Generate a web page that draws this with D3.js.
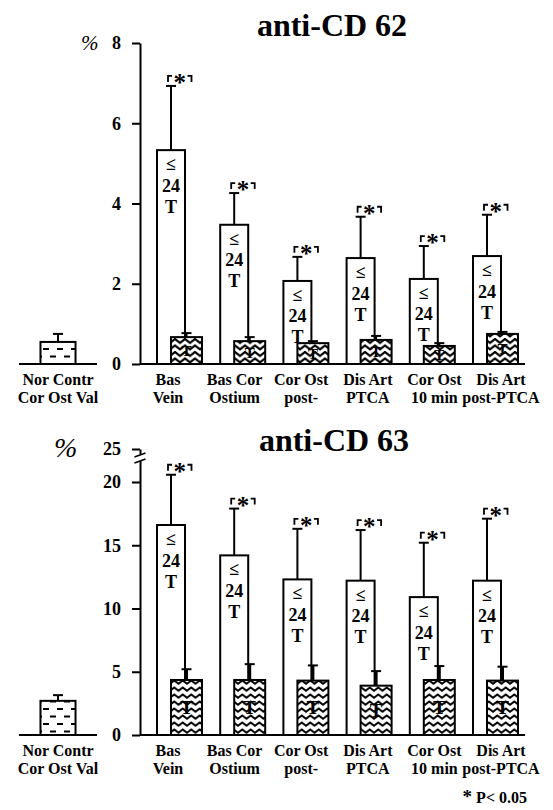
<!DOCTYPE html>
<html>
<head>
<meta charset="utf-8">
<script src="https://cdn.jsdelivr.net/npm/d3@7"></script>
<style>
  body { margin: 0; background: #fff; }
  svg { display: block; }
  text { font-family: "Liberation Serif", "Times New Roman", "DejaVu Serif", serif; font-weight: bold; fill: #000; }
</style>
</head>
<body>
<script>
// ---------- data ----------
const categories = ["Bas Vein", "Bas Cor Ostium", "Cor Ost post-", "Dis Art PTCA", "Cor Ost 10 min", "Dis Art post-PTCA"];
const labelLine1 = ["Bas", "Bas Cor", "Cor Ost", "Dis Art", "Cor Ost", "Dis Art"];
const labelLine2 = ["Vein", "Ostium", "post-", "PTCA", "10 min", "post-PTCA"];
const ctrlCategory = ["Nor Contr Cor Ost Val"];
const ctrlLine1 = ["Nor Contr"];
const ctrlLine2 = ["Cor Ost Val"];
const openText = ["≤", "24", "T"];
const hatchText = "T";

// anti-CD 62 (%)
const cd62Open = [5.33, 3.47, 2.07, 2.64, 2.12, 2.69];
const cd62OpenErr = [6.93, 4.26, 2.67, 3.67, 2.94, 3.72];
const cd62Hatch = [0.67, 0.57, 0.52, 0.60, 0.45, 0.75];
const cd62HatchErr = [0.77, 0.67, 0.57, 0.70, 0.52, 0.80];
const cd62Ctrl = [0.55];
const cd62CtrlErr = [0.75];
const cd62Ticks = [0, 2, 4, 6, 8];

// anti-CD 63 (%)
const cd63Open = [16.6, 14.2, 12.3, 12.2, 10.9, 12.2];
const cd63OpenErr = [21.1, 17.9, 16.3, 16.2, 15.2, 17.1];
const cd63Hatch = [4.35, 4.35, 4.3, 3.9, 4.35, 4.3];
const cd63HatchErr = [5.2, 5.6, 5.5, 5.05, 5.45, 5.4];
const cd63Ctrl = [2.7];
const cd63CtrlErr = [3.15];
const cd63Ticks = [0, 5, 10, 15, 20, 25];

// ---------- drawing ----------
const W = 553, H = 810;
const svg = d3.select("body").append("svg").attr("width", W).attr("height", H);
svg.append("rect").attr("width", W).attr("height", H).attr("fill", "#fff");

const defs = svg.append("defs");
// zigzag pattern (top chart, chevrons)
const pz1 = defs.append("pattern").attr("id", "zig1").attr("patternUnits", "userSpaceOnUse")
  .attr("width", 10).attr("height", 6.5);
pz1.append("rect").attr("width", 10).attr("height", 6.5).attr("fill", "#fff");
pz1.append("path").attr("d", "M-1,5.6 L5,1 L11,5.6").attr("fill", "none").attr("stroke", "#000").attr("stroke-width", 2.2);
// zigzag pattern (bottom chart, waves)
const pz2 = defs.append("pattern").attr("id", "zig2").attr("patternUnits", "userSpaceOnUse")
  .attr("width", 8.5).attr("height", 7);
pz2.append("rect").attr("width", 8.5).attr("height", 7).attr("fill", "#fff");
pz2.append("path").attr("d", "M-1,5.4 L4.25,1.4 L9.5,5.4").attr("fill", "none").attr("stroke", "#000").attr("stroke-width", 2);
// dash pattern (control)
const pd = defs.append("pattern").attr("id", "dash").attr("patternUnits", "userSpaceOnUse")
  .attr("width", 14).attr("height", 15).attr("patternTransform", "translate(40,0)");
pd.append("rect").attr("width", 14).attr("height", 15).attr("fill", "#fff");
pd.append("path").attr("d", "M3,4 H9 M10,11.5 H16 M-4,11.5 H2").attr("stroke", "#000").attr("stroke-width", 1.8);

const openW = 28, hatchOff = 14, hatchW = 31, capW = 10;
const labelSize = 16, lab1 = 21, lab2 = 39;

function panel(cfg) {
  const g = svg.append("g");
  const y = cfg.y;
  const x = d3.scalePoint().domain(categories).range([157, 473]);
  const xl = d3.scalePoint().domain(categories).range([168, 501]);
  const xc = d3.scaleBand().domain(ctrlCategory).range([19, 97]).padding(0.38);
  const y0 = y(0);

  // title
  g.append("text").attr("x", cfg.titleX).attr("y", cfg.titleY).attr("text-anchor", "middle")
    .style("font-size", "32px").text(cfg.title);
  // percent sign
  g.append("text").attr("x", cfg.pctX).attr("y", cfg.pctY)
    .style("font-size", cfg.pctSize + "px").style("font-weight", "normal").style("font-style", "italic").text("%");

  // axis
  const ax = g.append("g").attr("transform", "translate(140,0)")
    .call(d3.axisLeft(y).tickValues(cfg.ticks).tickSize(8).tickSizeOuter(0).tickPadding(11).tickFormat(d3.format("d")));
  ax.select(".domain").attr("stroke", "#000").attr("stroke-width", 2);
  ax.selectAll(".tick line").attr("stroke", "#000").attr("stroke-width", 2);
  ax.selectAll(".tick text").style("font-size", "18px").style("font-family", "Liberation Serif, serif")
    .style("font-weight", "bold").attr("fill", "#000");

  // axis break
  if (cfg.brk) {
    g.append("rect").attr("x", 134).attr("y", cfg.brk[0]).attr("width", 12).attr("height", cfg.brk[1] - cfg.brk[0]).attr("fill", "#fff");
    g.append("path").attr("d", `M134.5,${cfg.brk[0] + 3} L145.5,${cfg.brk[0] - 1} M134.5,${cfg.brk[1] + 2} L145.5,${cfg.brk[1] - 2}`)
      .attr("stroke", "#000").attr("stroke-width", 1.8);
  }

  // baselines
  g.append("line").attr("x1", 140).attr("x2", 525).attr("y1", y0).attr("y2", y0).attr("stroke", "#000").attr("stroke-width", 2);
  g.append("line").attr("x1", 19).attr("x2", 97).attr("y1", y0).attr("y2", y0).attr("stroke", "#000").attr("stroke-width", 2);

  // control bar
  xc.domain().forEach((c, i) => {
    const bx = xc(c), bw = xc.bandwidth(), cx = bx + bw / 2;
    g.append("line").attr("x1", cx).attr("x2", cx).attr("y1", y(cfg.ctrl[i])).attr("y2", y(cfg.ctrlErr[i])).attr("stroke", "#000").attr("stroke-width", 2);
    g.append("line").attr("x1", cx - capW / 2).attr("x2", cx + capW / 2).attr("y1", y(cfg.ctrlErr[i])).attr("y2", y(cfg.ctrlErr[i])).attr("stroke", "#000").attr("stroke-width", 2);
    g.append("rect").attr("x", bx).attr("y", y(cfg.ctrl[i])).attr("width", bw).attr("height", y0 - y(cfg.ctrl[i]))
      .attr("fill", "url(#dash)").attr("stroke", "#000").attr("stroke-width", 2);
    g.append("text").attr("x", cx).attr("y", y0 + lab1).attr("text-anchor", "middle").style("font-size", labelSize + "px").text(ctrlLine1[i]);
    g.append("text").attr("x", cx).attr("y", y0 + lab2).attr("text-anchor", "middle").style("font-size", labelSize + "px").text(ctrlLine2[i]);
  });

  categories.forEach((c, i) => {
    const lx = x(c);
    const wc = lx + openW / 2;
    const hx = lx + hatchOff, hc = hx + hatchW / 2;
    const top = y(cfg.open[i]);
    // open bar
    g.append("rect").attr("x", lx).attr("y", top).attr("width", openW).attr("height", y0 - top)
      .attr("fill", "#fff").attr("stroke", "#000").attr("stroke-width", 2);
    // open error bar
    const et = y(cfg.openErr[i]);
    g.append("line").attr("x1", wc).attr("x2", wc).attr("y1", top).attr("y2", et).attr("stroke", "#000").attr("stroke-width", 2);
    g.append("line").attr("x1", wc - capW / 2).attr("x2", wc + capW / 2).attr("y1", et).attr("y2", et).attr("stroke", "#000").attr("stroke-width", 2);
    // texts inside open bar
    const offs = [20, 41.5, 62.5];
    openText.forEach((t, k) => {
      g.append("text").attr("x", wc).attr("y", top + offs[k]).attr("text-anchor", "middle").style("font-size", "18px").text(t);
    });
    // significance marker
    const by = et - 10, x1 = wc - 3, x2 = hc + 5;
    g.append("path").attr("d", `M${x1},${by + 6} V${by} H${x1 + 4} M${x2 - 4},${by} H${x2} V${by + 6}`)
      .attr("fill", "none").attr("stroke", "#000").attr("stroke-width", 1.8);
    g.append("text").attr("x", (x1 + x2) / 2).attr("y", by + 15).attr("text-anchor", "middle").style("font-size", "25px").text("*");

    // hatched bar
    const ht = y(cfg.hatch[i]);
    g.append("rect").attr("x", hx).attr("y", ht).attr("width", hatchW).attr("height", y0 - ht)
      .attr("fill", `url(#${cfg.pattern})`).attr("stroke", "#000").attr("stroke-width", 2);
    const hmid = (ht + y0) / 2;
    g.append("text").attr("x", hc).attr("y", hmid + cfg.hTsize * 0.33).attr("text-anchor", "middle").style("font-size", cfg.hTsize + "px").text(hatchText);
    const het = y(cfg.hatchErr[i]);
    g.append("line").attr("x1", hc).attr("x2", hc).attr("y1", ht).attr("y2", het).attr("stroke", "#000").attr("stroke-width", cfg.hErrW);
    g.append("line").attr("x1", hc - capW / 2).attr("x2", hc + capW / 2).attr("y1", het).attr("y2", het).attr("stroke", "#000").attr("stroke-width", 2);

    // category labels
    g.append("text").attr("x", xl(c)).attr("y", y0 + lab1).attr("text-anchor", "middle").style("font-size", labelSize + "px").text(labelLine1[i]);
    g.append("text").attr("x", xl(c)).attr("y", y0 + lab2).attr("text-anchor", "middle").style("font-size", labelSize + "px").text(labelLine2[i]);
  });
}

panel({
  y: d3.scaleLinear().domain([0, 8]).range([364, 43]),
  ticks: cd62Ticks,
  open: cd62Open, openErr: cd62OpenErr, hatch: cd62Hatch, hatchErr: cd62HatchErr,
  ctrl: cd62Ctrl, ctrlErr: cd62CtrlErr,
  title: "anti-CD 62", titleX: 332, titleY: 36,
  pctX: 81, pctY: 50, pctSize: 21,
  pattern: "zig1", hTsize: 15, hErrW: 2
});

panel({
  y: d3.scaleLinear().domain([0, 20, 25]).range([735, 482, 449]),
  ticks: cd63Ticks,
  open: cd63Open, openErr: cd63OpenErr, hatch: cd63Hatch, hatchErr: cd63HatchErr,
  ctrl: cd63Ctrl, ctrlErr: cd63CtrlErr,
  title: "anti-CD 63", titleX: 334, titleY: 451,
  pctX: 54, pctY: 457, pctSize: 28,
  pattern: "zig2", hTsize: 19, hErrW: 3,
  brk: [454, 461]
});

// footnote
svg.append("text").attr("x", 527).attr("y", 803).attr("text-anchor", "end").style("font-size", "16px")
  .html('<tspan style="font-size:19px">*</tspan><tspan> P&lt; 0.05</tspan>');
</script>
</body>
</html>
